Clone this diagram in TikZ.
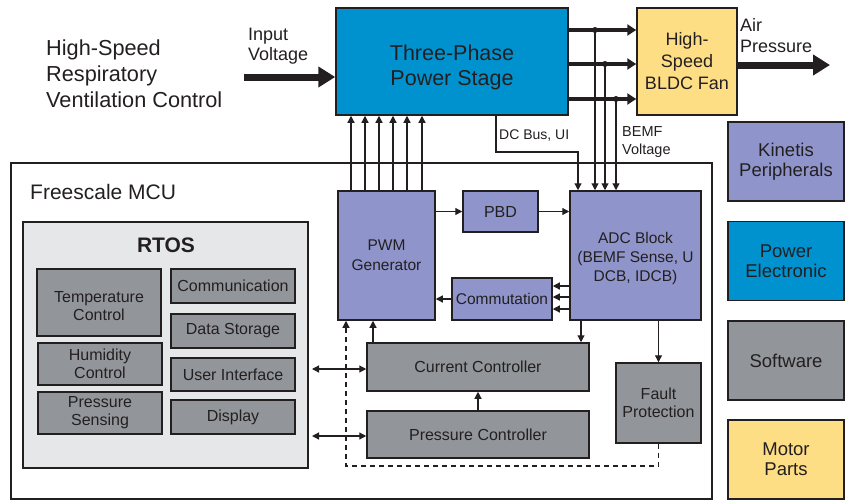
\documentclass[tikz,border=0pt]{standalone}
\usepackage{fontspec}
\setmainfont{Liberation Sans}
\usetikzlibrary{arrows.meta,calc}
\definecolor{ink}{RGB}{35,31,32}
\definecolor{pblue}{RGB}{0,146,207}
\definecolor{pyellow}{RGB}{253,222,133}
\definecolor{plav}{RGB}{143,149,202}
\definecolor{pgray}{RGB}{146,150,154}
\definecolor{plight}{RGB}{230,231,232}
\begin{document}
\begin{tikzpicture}[x=1pt,y=-1pt,
  every node/.style={text=ink},
  box/.style={draw=ink, line width=1.5pt, inner sep=1pt, align=center, font=\fontsize{16}{19}\selectfont},
  bluebox/.style={box, fill=pblue},
  yelbox/.style={box, fill=pyellow},
  lavbox/.style={box, fill=plav},
  graybox/.style={box, fill=pgray},
  legbox/.style={box, minimum width=116pt, minimum height=79pt, font=\fontsize{18.5}{20}\selectfont},
  lbl/.style={inner sep=0pt, align=left, anchor=west},
  arr/.style={draw=ink, line width=1.2pt, -{Triangle[length=7pt,width=7pt]}},
  darr/.style={draw=ink, line width=1.2pt, {Triangle[length=7pt,width=7pt]}-{Triangle[length=7pt,width=7pt]}},
  medarrow/.style={draw=ink, line width=4pt, -{Triangle[length=9pt,width=11pt]}},
  bigarrow/.style={draw=ink, line width=7pt, -{Triangle[length=17pt,width=20pt]}},
  junction/.style={circle, fill=ink, inner sep=0pt, minimum size=6pt}
]
\useasboundingbox (0,0) rectangle (850,501);

% title
\node[lbl, font=\fontsize{21.7}{26}\selectfont] (title) at (46,74) {High-Speed\\Respiratory\\Ventilation Control};

% top row
\node[bluebox, minimum width=232pt, minimum height=107pt] (ps) at (452,61.5) {};
\node[inner sep=0pt, align=center, font=\fontsize{21.5}{25}\selectfont] (pstext) at (452,67.5) {Three-Phase\\Power Stage};
\node[yelbox, minimum width=100pt, minimum height=107pt, font=\fontsize{18}{22}\selectfont] (fan) at (687,61.5) {High-\\Speed\\BLDC Fan};

\node[lbl, font=\fontsize{18}{20}\selectfont] (inlbl) at (248,46) {Input\\Voltage};
\node[lbl, font=\fontsize{18}{21}\selectfont] (airlbl) at (740,36) {Air\\Pressure};
\node[lbl, font=\fontsize{14}{17}\selectfont] (dclbl) at (499,136) {DC Bus, UI};
\node[lbl, font=\fontsize{14.5}{18}\selectfont] (bemflbl) at (622,142) {BEMF\\Voltage};

\coordinate (inp) at (244,77);
\draw[bigarrow] (inp) -- (inp -| ps.west);
\coordinate (airend) at (830,65);
\draw[bigarrow] (fan.east |- airend) -- (airend);

% MCU
\node[draw=ink, line width=2pt, minimum width=701pt, minimum height=336pt] (mcu) at (361.5,331) {};
\node[lbl, font=\fontsize{21}{25}\selectfont] (mculbl) at (30,192) {Freescale MCU};

% RTOS
\node[draw=ink, line width=2pt, fill=plight, minimum width=285pt, minimum height=246pt] (rtos) at (165.5,345) {};
\node[inner sep=0pt, font=\fontsize{21}{25}\selectfont\bfseries] (rtoslbl) at (166,245) {RTOS};
\node[graybox, minimum width=124pt, minimum height=67pt] (temp) at (99,302.5) {};
\node[inner sep=0pt, align=center, font=\fontsize{16}{18}\selectfont] (temptext) at (99,306) {Temperature\\Control};
\node[graybox, minimum width=124pt, minimum height=42pt, font=\fontsize{16}{18}\selectfont] (hum) at (100,364) {Humidity\\Control};
\node[graybox, minimum width=124pt, minimum height=42pt, font=\fontsize{16}{18}\selectfont] (psens) at (100,413) {Pressure\\Sensing};
\node[graybox, minimum width=124pt, minimum height=34pt] (comm) at (233,286) {Communication};
\node[graybox, minimum width=124pt, minimum height=34pt] (data) at (233,331) {Data Storage};
\node[graybox, minimum width=124pt, minimum height=33pt] (ui) at (233,374.5) {User Interface};
\node[graybox, minimum width=124pt, minimum height=34pt] (disp) at (233,417) {Display};

% MCU blocks
\node[lavbox, minimum width=97pt, minimum height=129pt, font=\fontsize{15.5}{20}\selectfont] (pwm) at (386.5,255.5) {PWM\\Generator};
\node[lavbox, minimum width=75pt, minimum height=41pt] (pbd) at (500.5,211.5) {PBD};
\node[lavbox, minimum width=131pt, minimum height=129pt] (adc) at (635.5,255.5) {};
\node[inner sep=0pt, align=center, font=\fontsize{15.5}{19}\selectfont] (adctext) at (635.5,258.5) {ADC Block\\(BEMF Sense, U\\DCB, IDCB)};
\node[lavbox, minimum width=100pt, minimum height=42pt, font=\fontsize{15.5}{19}\selectfont] (commu) at (502,299) {Commutation};
\node[graybox, minimum width=222pt, minimum height=48pt] (cur) at (478,367) {Current Controller};
\node[graybox, minimum width=222pt, minimum height=47pt] (pres) at (478,434.5) {Pressure Controller};
\node[graybox, minimum width=85pt, minimum height=80pt, font=\fontsize{16}{18}\selectfont] (fault) at (658.5,403) {Fault\\Protection};

% legend
\node[legbox, fill=plav] (kin) at (786,161.5) {Kinetis\\Peripherals};
\node[legbox, fill=pblue] (pe) at (786,261) {Power\\Electronic};
\node[legbox, fill=pgray] (sw) at (786,360.5) {Software};
\node[legbox, fill=pyellow] (mp) at (786,459.5) {Motor\\Parts};

% power stage to fan, with taps
\coordinate (p1) at (595,30);
\coordinate (p2) at (605,64);
\coordinate (p3) at (616,99);
\foreach \p in {p1,p2,p3} {
  \draw[medarrow] (ps.east |- \p) -- (fan.west |- \p);
  \draw[arr] (\p) -- (\p |- adc.north);
  \node[junction] at (\p) {};
}

% DC bus
\coordinate (dc1) at (496,152);
\coordinate (dc2) at (578,152);
\draw[arr] (dc1 |- ps.south) -- (dc1) -- (dc2) -- (dc2 |- adc.north);

% PWM to power stage
\foreach \x in {351,365,379,393,407,422} {
  \coordinate (tx) at (\x,0);
  \draw[arr] (tx |- pwm.north) -- (tx |- ps.south);
}

% internal flows
\draw[arr] (pwm.east |- pbd.west) -- (pbd.west);
\draw[arr] (pbd.east) -- (adc.west |- pbd.east);
\foreach \y in {286,297,309} {
  \coordinate (cy) at (0,\y);
  \draw[arr] (adc.west |- cy) -- (commu.east |- cy);
}
\draw[arr] (commu.west) -- (pwm.east |- commu.west);

\coordinate (cc) at (373,0);
\draw[arr] (cc |- cur.north) -- (cc |- pwm.south);
\coordinate (ac) at (581,0);
\draw[arr] (ac |- adc.south) -- (ac |- cur.north);
\draw[arr] (fault.north |- adc.south) -- (fault.north);
\draw[arr] (pres.north) -- (cur.south);

\coordinate (dsh) at (346,466);
\draw[arr, dashed, dash pattern=on 5pt off 4pt] (fault.south) -- (fault.south |- dsh) -- (dsh) -- (dsh |- pwm.south);

\coordinate (r1) at (312,369);
\coordinate (r2) at (312,436);
\draw[darr] (r1) -- (cur.west |- r1);
\draw[darr] (r2) -- (pres.west |- r2);
\end{tikzpicture}
\end{document}
